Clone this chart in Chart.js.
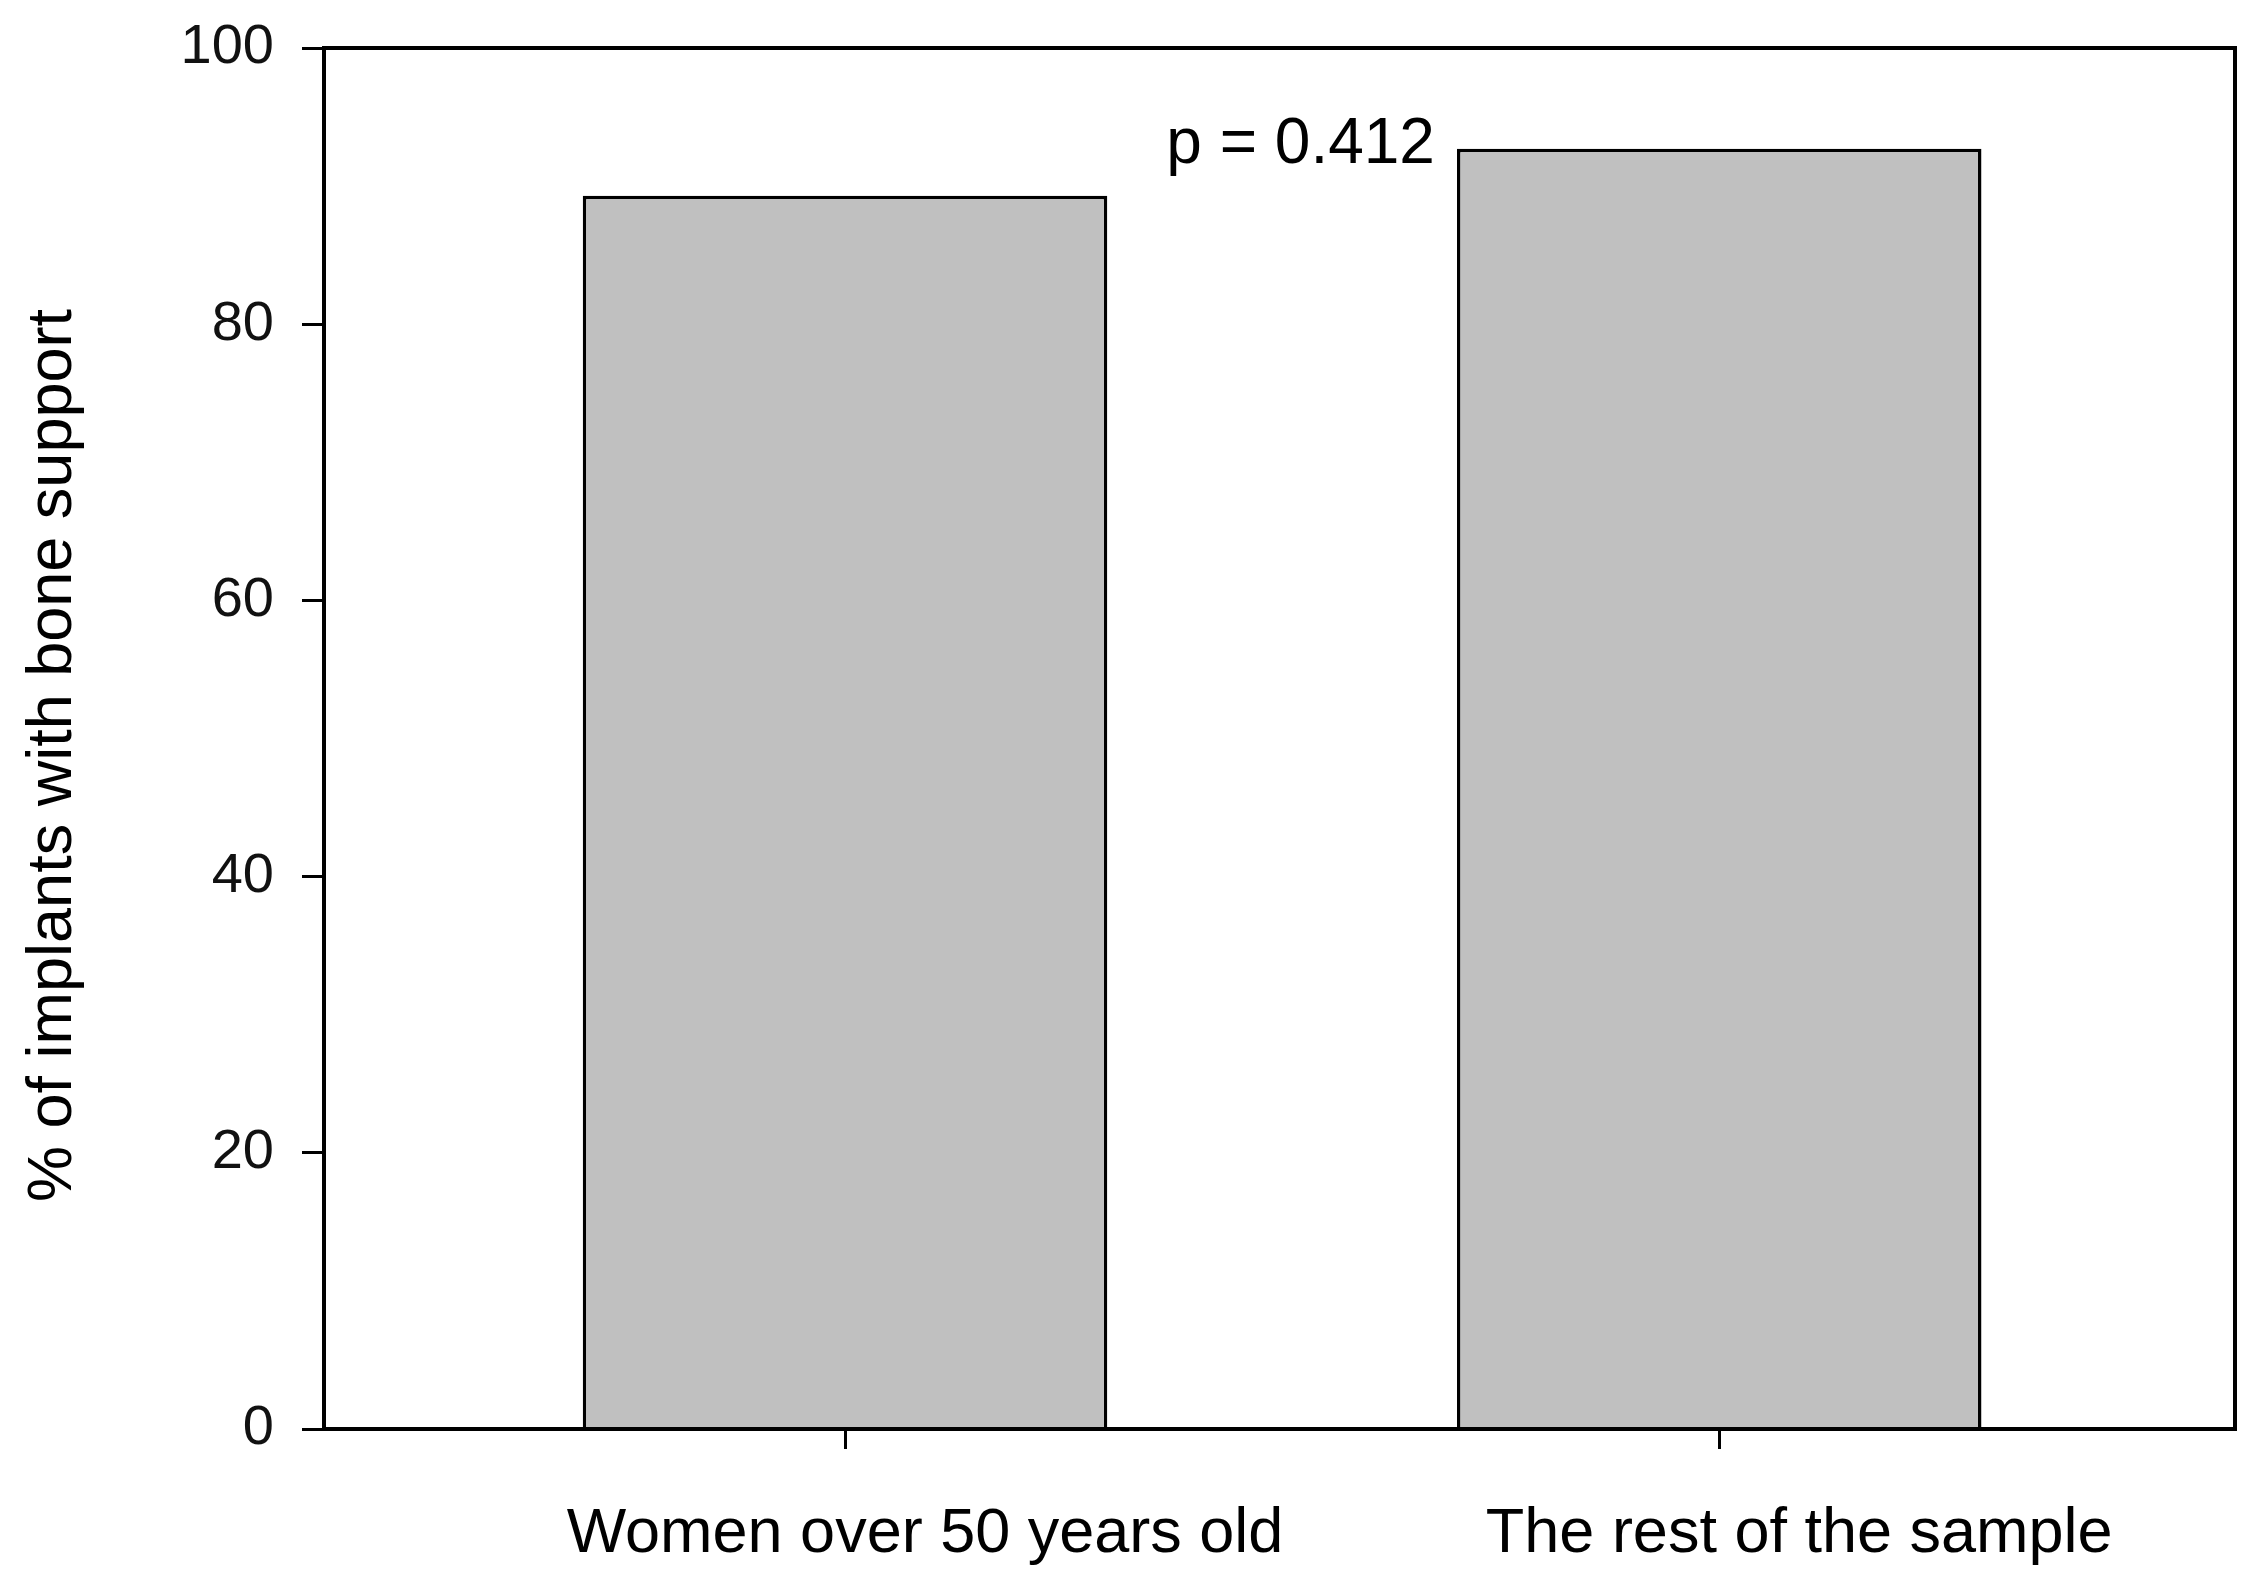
<!DOCTYPE html>
<html>
<head>
<meta charset="utf-8">
<title>Implants with bone support</title>
<script src="https://cdn.jsdelivr.net/npm/chart.js@4.4.1/dist/chart.umd.min.js"></script>
<style>
  html, body { margin: 0; padding: 0; background: #fff; }
  #wrap { width: 2261px; height: 1585px; }
</style>
</head>
<body>
<div id="wrap"><canvas id="boneChart"></canvas></div>
<script>
// values
const categories = ['Women over 50 years old', 'The rest of the sample'];
const boneSupport = [89.3, 92.7];
const yTicks = [0, 20, 40, 60, 80, 100];
const yTitle = '% of implants with bone support';
const pValueText = 'p = 0.412';

const FONT = "'Liberation Sans', Arial, Helvetica, sans-serif";
const NARROW = "'Liberation Sans Narrow', 'Arial Narrow', 'Liberation Sans', Arial, sans-serif";

// closes the box round the plot, writes the axis title and the p value
const framePlugin = {
  id: 'frame',
  afterDraw(chart) {
    const { ctx, chartArea } = chart;
    ctx.save();
    ctx.strokeStyle = '#000';
    ctx.lineWidth = 4;
    ctx.strokeRect(chartArea.left, chartArea.top,
      chartArea.right - chartArea.left, chartArea.bottom - chartArea.top);

    ctx.fillStyle = '#000';

    // y axis title, a little below the middle of the axis as in the figure
    ctx.save();
    ctx.translate(54, (chartArea.top + chartArea.bottom) / 2 + 17);
    ctx.rotate(-Math.PI / 2);
    ctx.font = '63px ' + FONT;
    ctx.textAlign = 'center';
    ctx.textBaseline = 'middle';
    ctx.fillText(yTitle, 0, 0);
    ctx.restore();

    const bar = chart.getDatasetMeta(0).data[1];
    ctx.font = '64px ' + FONT;
    ctx.textAlign = 'right';
    ctx.textBaseline = 'alphabetic';
    ctx.fillText(pValueText, bar.x - bar.width / 2 - 22, chart.scales.y.getPixelForValue(91.7));
    ctx.restore();
  }
};

const ctx = document.getElementById('boneChart').getContext('2d');
new Chart(ctx, {
  type: 'bar',
  data: {
    datasets: [{
      data: boneSupport.map((v, i) => ({ x: i + 1, y: v })),
      backgroundColor: '#c0c0c0',
      borderColor: '#000',
      borderWidth: 3.5,
      borderSkipped: 'bottom',
      categoryPercentage: 1,
      barPercentage: 0.6
    }]
  },
  options: {
    responsive: true,
    maintainAspectRatio: false,
    devicePixelRatio: 1,
    animation: false,
    layout: { padding: { top: 48, right: 26, left: 0, bottom: 0 } },
    plugins: {
      legend: { display: false },
      tooltip: { enabled: false }
    },
    scales: {
      x: {
        type: 'linear',
        min: 0.404,
        max: 2.59,
        offset: false,
        afterBuildTicks: scale => { scale.ticks = categories.map((c, i) => ({ value: i + 1 })); },
        afterFit: scale => {
          scale.height = 156;
          scale.paddingLeft = 0;
          scale.paddingRight = 0;
        },
        border: { display: true, color: '#000', width: 4 },
        grid: {
          offset: false,
          drawOnChartArea: false,
          drawTicks: true,
          tickLength: 20,
          color: '#000',
          lineWidth: 3
        },
        ticks: {
          callback: value => categories[value - 1] || '',
          autoSkip: false,
          maxRotation: 0,
          labelOffset: 80,
          padding: 48,
          color: '#000',
          font: { family: FONT, size: 63 }
        }
      },
      y: {
        min: 0,
        max: 100,
        afterBuildTicks: scale => { scale.ticks = yTicks.map(v => ({ value: v })); },
        afterFit: scale => {
          scale.width = 324;
          scale.paddingTop = 0;
          scale.paddingBottom = 0;
        },
        border: { display: true, color: '#000', width: 4 },
        grid: {
          drawOnChartArea: false,
          drawTicks: true,
          tickLength: 22,
          color: '#000',
          lineWidth: 3
        },
        ticks: {
          padding: 28,
          color: '#111',
          font: { family: NARROW, size: 56 }
        }
      }
    }
  },
  plugins: [framePlugin]
});
</script>
</body>
</html>
